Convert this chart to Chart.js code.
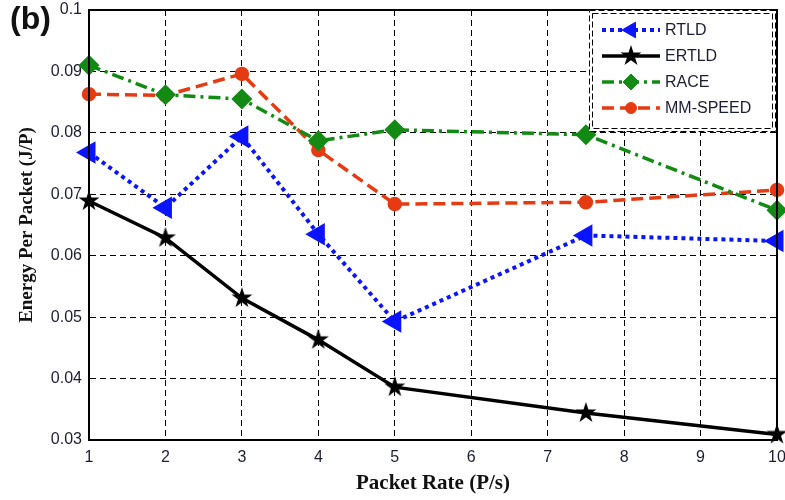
<!DOCTYPE html>
<html>
<head>
<meta charset="utf-8">
<script src="https://cdn.jsdelivr.net/npm/chart.js@4/dist/chart.umd.min.js"></script>
<style>
  html, body { margin: 0; padding: 0; background: #fff; }
  #wrap { width: 785px; height: 500px; position: relative; }
</style>
</head>
<body>
<div id="wrap"><canvas id="c" width="785" height="500"></canvas></div>
<script>
const packetRates = [1, 2, 3, 4, 5, 7.5, 10];
const rtld    = [0.0768, 0.0678, 0.0794, 0.0635, 0.0493, 0.0633, 0.0624];
const ertld   = [0.0689, 0.0629, 0.0531, 0.0463, 0.0386, 0.0344, 0.0309];
const race    = [0.0910, 0.0862, 0.0855, 0.0787, 0.0805, 0.0797, 0.0674];
const mmspeed = [0.0863, 0.0861, 0.0896, 0.0772, 0.0684, 0.0687, 0.0707];
const seriesNames = ['RTLD', 'ERTLD', 'RACE', 'MM-SPEED'];
const xTicks = [1, 2, 3, 4, 5, 6, 7, 8, 9, 10];
const yTicks = [0.03, 0.04, 0.05, 0.06, 0.07, 0.08, 0.09, 0.1];

const pts = arr => arr.map((v, i) => ({ x: packetRates[i], y: v }));

// filled five-pointed star image for ERTLD markers
function makeStar(r) {
  const c = document.createElement('canvas');
  const s = Math.ceil(r * 2 + 2);
  c.width = s; c.height = s;
  const g = c.getContext('2d');
  g.translate(s / 2, s / 2);
  g.beginPath();
  for (let i = 0; i < 10; i++) {
    const rad = i % 2 === 0 ? r : r * 0.38;
    const a = -Math.PI / 2 + i * Math.PI / 5;
    g.lineTo(rad * Math.cos(a), rad * Math.sin(a));
  }
  g.closePath();
  g.fillStyle = '#000';
  g.fill();
  return c;
}
const starImg = makeStar(11);

const titleAndFrame = {
  id: 'titleAndFrame',
  afterDraw(chart) {
    const ctx = chart.ctx;
    const a = chart.chartArea;
    ctx.save();
    // frame
    ctx.strokeStyle = '#000';
    ctx.lineWidth = 2;
    ctx.setLineDash([]);
    ctx.strokeRect(a.left, a.top, a.right - a.left, a.bottom - a.top);
    // (b)
    ctx.fillStyle = '#111';
    ctx.font = 'bold 32px "Liberation Sans", Arial, sans-serif';
    ctx.textBaseline = 'top';
    ctx.textAlign = 'left';
    ctx.fillText('(b)', 10, 4);

    // legend
    const lx = 592, ly = 13, lw = 180, lh = 115;
    ctx.fillStyle = '#fff';
    ctx.fillRect(lx - 3, ly - 3, lw + 6, lh + 6);
    ctx.strokeStyle = '#000';
    ctx.lineWidth = 1;
    ctx.setLineDash([6, 3]);
    ctx.strokeRect(lx + 0.5, ly + 0.5, lw, lh);
    ctx.strokeRect(lx - 2.5, ly - 2.5, lw + 6, lh + 6);
    ctx.setLineDash([]);
    const rows = [30, 56, 82, 108];
    chart.data.datasets.forEach((ds, i) => {
      const y = rows[i];
      ctx.save();
      ctx.strokeStyle = ds.borderColor;
      ctx.lineWidth = ds.borderWidth;
      ctx.setLineDash(ds.borderDash || []);
      ctx.beginPath();
      ctx.moveTo(602, y);
      ctx.lineTo(660, y);
      ctx.stroke();
      ctx.setLineDash([]);
      ctx.fillStyle = ds.pointBackgroundColor;
      ctx.strokeStyle = ds.pointBorderColor;
      ctx.lineWidth = 1;
      Chart.helpers.drawPoint(ctx, {
        pointStyle: ds.pointStyle,
        rotation: ds.pointRotation || 0,
        radius: ds.pointRadius,
        borderWidth: 1
      }, 631, y);
      ctx.restore();
      ctx.fillStyle = '#1c1c34';
      ctx.font = '16px "Liberation Sans", Arial, sans-serif';
      ctx.textBaseline = 'middle';
      ctx.textAlign = 'left';
      ctx.fillText(ds.label, 665, y + 1);
    });
    ctx.restore();
  }
};

new Chart(document.getElementById('c'), {
  type: 'line',
  data: {
    datasets: [
      {
        label: seriesNames[0], data: pts(rtld),
        borderColor: '#0a14ff', borderWidth: 4, borderDash: [4, 4],
        pointStyle: 'triangle', pointRotation: -90, pointRadius: 9,
        pointBackgroundColor: '#0a14ff', pointBorderColor: '#0a14ff'
      },
      {
        label: seriesNames[1], data: pts(ertld),
        borderColor: '#000000', borderWidth: 3.5, borderDash: [],
        pointStyle: starImg, pointRadius: 11,
        pointBackgroundColor: '#000', pointBorderColor: '#000'
      },
      {
        label: seriesNames[2], data: pts(race),
        borderColor: '#138a13', borderWidth: 3.5, borderDash: [12, 5, 3, 5],
        pointStyle: 'rectRot', pointRadius: 8,
        pointBackgroundColor: '#138a13', pointBorderColor: '#138a13'
      },
      {
        label: seriesNames[3], data: pts(mmspeed),
        borderColor: '#e63a12', borderWidth: 3.5, borderDash: [12, 6],
        pointStyle: 'circle', pointRadius: 5.5,
        pointBackgroundColor: '#e63a12', pointBorderColor: '#e63a12'
      }
    ]
  },
  options: {
    responsive: false,
    animation: false,
    devicePixelRatio: 1,
    clip: false,
    layout: { autoPadding: false, padding: { left: 0, top: 10, right: 2, bottom: 0 } },
    plugins: { legend: { display: false }, tooltip: { enabled: false } },
    elements: { line: { tension: 0, fill: false } },
    scales: {
      x: {
        type: 'linear', min: 1, max: 10,
        afterBuildTicks: s => { s.ticks = xTicks.map(v => ({ value: v })); },
        afterFit: s => { s.height = 60; s.paddingRight = 8; s.paddingLeft = 0; },
        grid: { color: '#000', lineWidth: 1, drawTicks: false },
        border: { display: true, color: '#000', width: 2, dash: [6, 4] },
        ticks: { color: '#1c1c34', padding: 8, font: { family: '"Liberation Sans", Arial, sans-serif', size: 16 } },
        title: { display: true, text: 'Packet Rate (P/s)', color: '#111',
          font: { family: '"Liberation Serif", "Times New Roman", serif', size: 21, weight: 'bold' },
          padding: { top: 0, bottom: 4 } }
      },
      y: {
        type: 'linear', min: 0.03, max: 0.1,
        afterBuildTicks: s => { s.ticks = yTicks.map(v => ({ value: v })); },
        afterFit: s => { s.width = 89; s.paddingTop = 0; s.paddingBottom = 0; },
        grid: { color: '#000', lineWidth: 1, drawTicks: false },
        border: { display: true, color: '#000', width: 2, dash: [6, 4] },
        ticks: { color: '#1c1c34', padding: 7, callback: v => String(+v.toFixed(2)),
          font: { family: '"Liberation Sans", Arial, sans-serif', size: 16 } },
        title: { display: true, text: 'Energy Per Packet (J/P)', color: '#111',
          font: { family: '"Liberation Serif", "Times New Roman", serif', size: 19, weight: 'bold' },
          padding: { top: 16, bottom: 0 } }
      }
    }
  },
  plugins: [titleAndFrame]
});
</script>
</body>
</html>
